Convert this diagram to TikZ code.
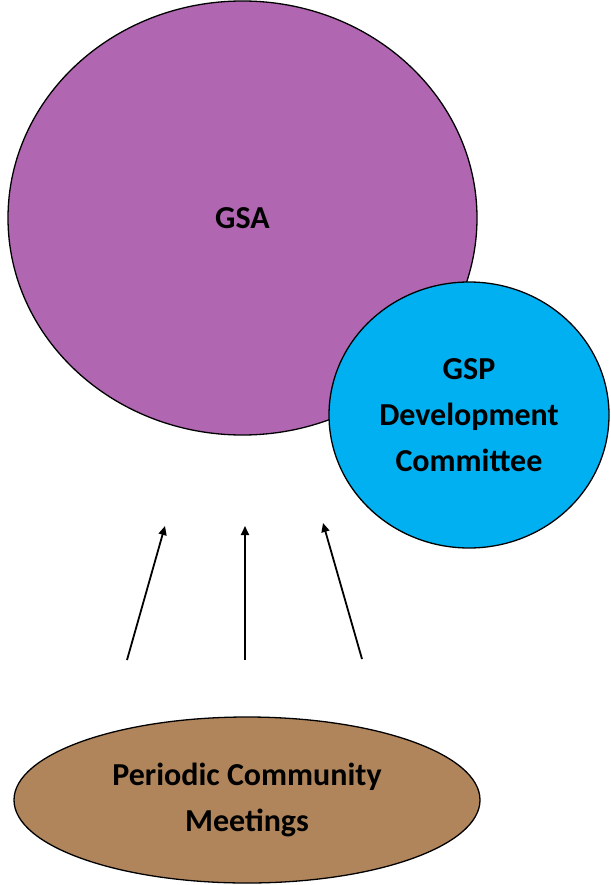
\documentclass[tikz,border=0pt]{standalone}
\usepackage{fontspec}
\setmainfont{Carlito}
\usetikzlibrary{shapes.geometric,arrows.meta}
\definecolor{gsapurple}{HTML}{B166B2}
\definecolor{gspblue}{HTML}{00B0F0}
\definecolor{meetbrown}{HTML}{B0855B}
\tikzset{
  blob/.style={ellipse, draw=black, line width=1.3pt, inner sep=0pt, align=center,
    font=\fontsize{32}{46}\selectfont\bfseries},
  flowarrow/.style={line width=1.8pt, -{Triangle[length=9pt,width=8pt]}}
}
\begin{document}
\begin{tikzpicture}[x=1pt,y=-1pt]
\useasboundingbox (0,0) rectangle (610,885);
\node[blob, fill=gsapurple, minimum width=469pt, minimum height=434pt] (gsa) at (242.5,218) {\raisebox{-4pt}{GSA}};
\node[blob, fill=gspblue, minimum width=280pt, minimum height=266pt] (gsp) at (469,415) {GSP\\Development\\Committee};
\node[blob, fill=meetbrown, minimum width=466pt, minimum height=166pt] (pcm) at (247,800) {Periodic Community\\Meetings};
\coordinate (s1) at (127,660);
\coordinate (e1) at (165,526);
\coordinate (s2) at (245,660);
\coordinate (e2) at (245,526);
\coordinate (s3) at (362,659);
\coordinate (e3) at (323,523);
\draw[flowarrow] (s1) -- (e1);
\draw[flowarrow] (s2) -- (e2);
\draw[flowarrow] (s3) -- (e3);
\end{tikzpicture}
\end{document}
